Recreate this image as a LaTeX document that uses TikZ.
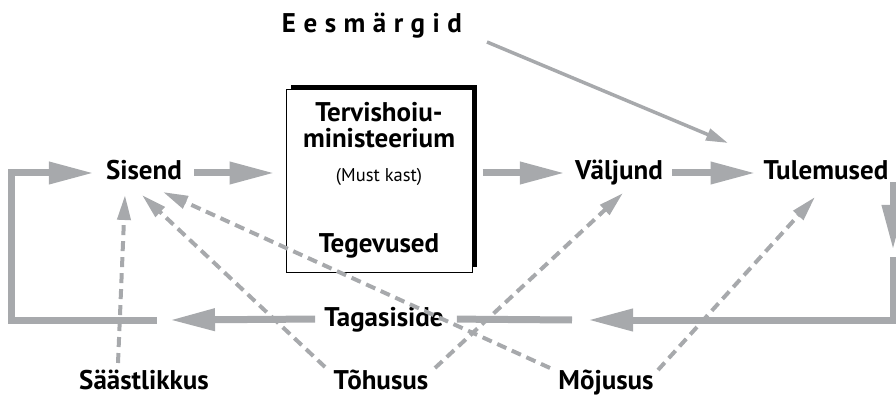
\documentclass[tikz,border=0pt]{standalone}
\usepackage{fontspec}
\setmainfont{PT Sans}
\usetikzlibrary{arrows.meta,shadows}
\definecolor{lg}{HTML}{A7A9AC}
\newcommand{\ls}{\hspace{7.5pt}}
\begin{document}
\begin{tikzpicture}[x=1pt,y=-1pt,
  lbl/.style={font=\fontsize{27}{31}\selectfont\bfseries, inner sep=0pt, text height=19pt, text depth=5pt, anchor=base},
  boxtxt/.style={font=\fontsize{27}{31}\selectfont\bfseries, inner sep=0pt, anchor=base},
  smalltxt/.style={font=\fontsize{18.5}{22}\selectfont, inner sep=0pt, anchor=base},
  thk/.style={draw=lg, line width=7pt, line join=miter},
  thkarr/.style={thk, -{Triangle[length=45pt,width=21pt]}},
  dsh/.style={draw=lg, line width=4pt, dash pattern=on 10pt off 6pt, -{Triangle[length=25pt,width=13pt]}},
  thinarr/.style={draw=lg, line width=3.5pt, -{Triangle[length=22pt,width=12pt]}},
  mainbox/.style={draw=black, line width=1pt, fill=white, minimum width=186pt, minimum height=182pt, inner sep=0pt,
    drop shadow={shadow xshift=5pt, shadow yshift=5pt, fill=black, opacity=1}}]
\useasboundingbox (0,0) rectangle (896,395);

% nodes
\node[boxtxt] (eesm) at (372,33) {E\ls e\ls s\ls m\ls ä\ls r\ls g\ls i\ls d};
\node[mainbox] (box) at (379,181) {};
\node[boxtxt] (t1) at (379,122) {Tervishoiu-};
\node[boxtxt] (t2) at (379,148) {ministeerium};
\node[smalltxt] (t3) at (379,182) {(Must kast)};
\node[boxtxt] (t4) at (379,252) {Tegevused};

\node[lbl] (sisend) at (144,180) {Sisend};
\node[lbl] (valj) at (619,180) {Väljund};
\node[lbl] (tul) at (826,180) {Tulemused};
\node[lbl] (tag) at (384,326) {Tagasiside};
\node[lbl] (saast) at (144,389) {Säästlikkus};
\node[lbl] (tohus) at (381,389) {Tõhusus};
\node[lbl] (mojus) at (606,389) {Mõjusus};

\coordinate (dn1) at (893,182);
\coordinate (dn2) at (893,250);
\coordinate (rc1) at (893,257);
\coordinate (tip1) at (588,320);
\coordinate (seg1) at (572,320);
\coordinate (tip2) at (170,320);
\coordinate (lstart) at (157,320);
\coordinate (lc) at (11,173);

% thick arrows
\draw[thkarr, shorten <=12pt, shorten >=11pt] (sisend.east) -- (sisend.east -| box.west);
\draw[thkarr, shorten <=10pt, shorten >=10pt] (box.east |- valj.west) -- (valj.west);
\draw[thkarr, shorten <=9pt, shorten >=8pt] (valj.east) -- (tul.west);
\draw[thkarr] (dn1) -- (dn2);
\draw[thkarr] (rc1) |- (tip1);
\draw[thk, shorten >=13pt] (seg1) -- (tag.east);
\draw[thkarr, shorten <=9pt] (tag.west) -- (tip2);
\draw[thkarr, shorten >=12pt] (lstart) -| (lc) -- (sisend.west);

% thin arrow
\draw[thinarr] ([shift={(115,9)}]eesm.base) -- ([shift={(-98,-37)}]tul.base);

% dashed arrows
\draw[dsh] ([shift={(-26,-26)}]saast.base) -- ([shift={(-19,15)}]sisend.base);
\draw[dsh] ([shift={(-56,-22)}]tohus.base) -- ([shift={(-2,15)}]sisend.base);
\draw[dsh] ([shift={(-56,-21)}]mojus.base) -- ([shift={(19,12)}]sisend.base);
\draw[dsh] ([shift={(54,-21)}]tohus.base) -- ([shift={(4,13)}]valj.base);
\draw[dsh] ([shift={(52,-19)}]mojus.base) -- ([shift={(-11,17)}]tul.base);
\end{tikzpicture}
\end{document}
